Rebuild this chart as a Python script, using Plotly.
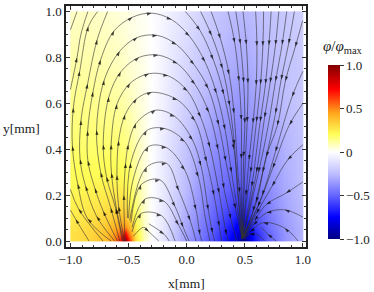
import plotly.graph_objects as go

GRID_X = [-1, -.85, -.7, -.62, -.56, -.53, -.5, -.44, -.36, -.3, -.2, -.05, .1, .25, .38, .44, .48, .52, .58, .7, .85, 1]
GRID_Y = [0, .03, .06, .1, .15, .25, .4, .6, .8, 1.0]
PHI = [
    [.28, .31, .38, .5, .72, .98, .7, .3, .08, 0, -.1, -.3, -.44, -.58, -.76, -.88, -1, -.9, -.7, -.5, -.36, -.27],
    [.28, .31, .37, .47, .6, .75, .56, .28, .08, 0, -.1, -.3, -.42, -.56, -.73, -.85, -.97, -.87, -.68, -.5, -.36, -.27],
    [.27, .3, .35, .42, .48, .5, .42, .25, .07, 0, -.1, -.28, -.41, -.54, -.7, -.8, -.85, -.78, -.62, -.47, -.35, -.27],
    [.25, .28, .32, .35, .38, .38, .33, .21, .06, 0, -.09, -.27, -.39, -.52, -.64, -.71, -.74, -.69, -.56, -.45, -.34, -.26],
    [.24, .26, .28, .3, .3, .29, .26, .17, .06, 0, -.09, -.25, -.37, -.49, -.58, -.62, -.64, -.6, -.52, -.42, -.32, -.25],
    [.21, .22, .23, .23, .23, .22, .2, .13, .05, 0, -.08, -.22, -.34, -.44, -.5, -.52, -.52, -.51, -.45, -.38, -.3, -.24],
    [.18, .18, .18, .18, .17, .16, .15, .1, .04, 0, -.08, -.2, -.31, -.39, -.43, -.44, -.44, -.43, -.4, -.35, -.28, -.23],
    [.14, .14, .13, .12, .11, .1, .09, .06, .03, 0, -.06, -.16, -.25, -.31, -.35, -.36, -.36, -.35, -.33, -.3, -.25, -.21],
    [.1, .1, .09, .08, .07, .06, .05, .04, .02, 0, -.05, -.13, -.2, -.25, -.29, -.3, -.3, -.3, -.28, -.26, -.23, -.2],
    [.07, .07, .06, .05, .04, .04, .03, .02, .01, 0, -.04, -.1, -.16, -.22, -.25, -.26, -.26, -.26, -.25, -.23, -.21, -.18],
]

# Streamlines in flow order; a point with a third element 0 carries no arrow.
STREAMS = [
    [(-.84, 0), (-.955, .095), (-1, .135)],
    [(-.72, 0), (-.93, .14), (-1, .225)],
    [(-1, .92), (-.943, 1.0)],
    [(-1, .66), (-.943, .8), (-.91, .9, 0), (-.85, 1.0)],
    [(-.65, 0), (-.852, .097), (-.937, .248), (-.983, .414), (-.975, .581), (-.92, .74), (-.846, .935), (-.766, 1.0)],
    [(-.62, 0), (-.775, .108), (-.87, .24), (-.917, .356), (-.909, .526), (-.852, .685), (-.77, .877), (-.68, 1.0)],
    [(-.596, 0), (-.718, .13), (-.79, .23), (-.85, .35), (-.852, .48), (-.806, .65), (-.74, .79), (-.624, .916),
     (-.467, .975), (-.302, .993), (-.131, .965), (.023, .893), (.157, .781), (.256, .644), (.33, .486), (.385, .3),
     (.478, .01)],
    [(-.576, 0), (-.653, .144), (-.74, .299), (-.775, .483), (-.71, .70), (-.576, .827), (-.425, .887), (-.254, .896),
     (-.088, .856), (.063, .769), (.185, .665), (.276, .506), (.336, .349), (.419, .142), (.478, .01)],
    [(-.553, 0), (-.61, .14), (-.69, .28), (-.718, .42), (-.67, .627), (-.567, .737), (-.41, .8), (-.245, .81),
     (-.08, .773), (.071, .683), (.19, .561), (.27, .4), (.32, .23), (.379, .097), (.43, 0)],
    [(-.544, 0), (-.604, .14), (-.647, .296), (-.65, .42), (-.6, .596), (-.487, .687), (-.325, .729), (-.16, .72),
     (.006, .654), (.12, .54), (.2, .409), (.279, .209), (.342, .029), (.36, 0)],
    [(-.535, 0), (-.585, .15), (-.6, .287), (-.585, .437), (-.53, .55), (-.43, .62), (-.3, .648), (-.08, .615),
     (.071, .524), (.171, .346), (.235, .2), (.28, .065), (.3, 0)],
    [(-.53, 0), (-.54, .2), (-.525, .339), (-.502, .42), (-.436, .512), (-.268, .57), (-.103, .543), (.05, .44),
     (.123, .328), (.185, .137), (.222, .036), (.24, 0)],
    [(-.51, .1, 0), (-.482, .339), (-.345, .481), (-.188, .49), (-.017, .433), (.1, .28), (.16, .1, 0), (.2, 0)],
    [(-.5, .1, 0), (-.46, .27, 0), (-.331, .411), (-.174, .407), (-.017, .31), (.08, .137), (.114, .029), (.13, 0)],
    [(-.49, .09, 0), (-.345, .322), (-.174, .339), (-.068, .22), (.03, .09), (.08, 0)],
    [(-.48, .08, 0), (-.393, .245), (-.231, .267), (-.1, .15), (-.03, .06), (.02, 0)],
    [(-.47, .06, 0), (-.359, .183), (-.194, .173), (-.07, .07), (0, 0)],
    [(-.47, .04, 0), (-.393, .12), (-.217, .111), (-.1, 0)],
    [(-.325, .075, 0), (-.195, .03), (-.15, 0)],
    [(-.46, .02, 0), (-.37, .06, 0), (-.325, .04), (-.24, 0)],
    [(-.011, 1.0), (.114, .918), (.228, .791), (.319, .639), (.407, .4), (.46, .1, 0), (.478, .01)],
    [(.12, 1.0), (.214, .896), (.308, .752), (.37, .59), (.41, .42), (.44, .2, 0), (.478, .01)],
    [(.21, 1.0), (.29, .882), (.365, .726), (.407, .557), (.44, .3, 0), (.456, .212), (.478, .01)],
    [(.356, 1.0), (.413, .864), (.45, .697), (.47, .528), (.47, .358), (.47, .2, 0), (.478, .01)],
    [(.422, 1.0), (.462, .859), (.49, .691), (.5, .514), (.49, .368), (.485, .2, 0), (.478, .01)],
    [(.484, 1.0), (.513, .856), (.527, .687), (.52, .52), (.5, .3, 0), (.478, .01)],
    [(.593, 1.0), (.604, .85), (.598, .68), (.57, .514), (.536, .354), (.51, .2), (.478, .01)],
    [(.661, 1.0), (.655, .85), (.635, .683), (.6, .52), (.55, .3), (.5, .12, 0), (.48, .01)],
    [(.726, 1.0), (.707, .853), (.678, .685), (.632, .521), (.56, .238), (.48, .01)],
    [(.792, 1.0), (.764, .855), (.718, .691), (.67, .538), (.6, .3), (.52, .1, 0), (.48, .01)],
    [(.86, 1.0), (.82, .855), (.764, .697), (.7, .5, 0), (.618, .3), (.5, .05, 0)],
    [(.926, 1.0), (.877, .86), (.812, .703), (.764, .557), (.654, .3), (.57, .13), (.48, .01)],
    [(.997, .96), (.934, .846), (.849, .697), (.78, .504), (.684, .368), (.6, .17), (.48, .01)],
    [(1.0, .74), (.906, .629), (.764, .39), (.65, .2), (.48, .01)],
    [(1.0, .6), (.883, .506), (.74, .318), (.613, .15), (.48, .01)],
    [(1.0, .42), (.869, .354), (.735, .24), (.6, .12), (.48, .01)],
    [(1.0, .258), (.855, .209), (.684, .159), (.584, .09), (.49, .015)],
    [(1.0, .104), (.844, .136), (.687, .123), (.573, .07), (.5, .02)],
    [(.958, 0), (.844, .056), (.659, .08), (.545, .04), (.49, .01)],
    [(.77, 0), (.698, .03), (.64, .06)],
    [(.67, 0), (.6, .03, 0), (.541, .03), (.49, .005)],
]

X_TICKS = [-1, -.5, 0, .5, 1]
X_LABELS = ["−1.0", "−0.5", "0.0", "0.5", "1.0"]
Y_TICKS = [0, .2, .4, .6, .8, 1]
Y_LABELS = ["0.0", "0.2", "0.4", "0.6", "0.8", "1.0"]
CB_TICKS = [-1, -.5, 0, .5, 1]
CB_LABELS = ["−1.0", "−0.5", "0", "0.5", "1.0"]

SCALE = [
    [0, "rgb(0,0,130)"], [.125, "rgb(0,0,255)"], [.25, "rgb(100,100,255)"], [.375, "rgb(190,190,255)"],
    [.5, "rgb(255,255,255)"], [.6, "rgb(255,255,90)"], [.72, "rgb(255,170,30)"], [.86, "rgb(255,0,0)"],
    [1, "rgb(130,0,0)"],
]
FONT = "Liberation Serif"

# Hairline end cells stop the heatmap from overhanging the data range by half a cell.
grid_x = [GRID_X[0], GRID_X[0] + .001] + GRID_X[1:-1] + [GRID_X[-1] - .001, GRID_X[-1]]
grid_y = [GRID_Y[0], GRID_Y[0] + .001] + GRID_Y[1:-1] + [GRID_Y[-1] - .001, GRID_Y[-1]]
rows = [[r[0]] + r + [r[-1]] for r in PHI]
rows = [rows[0]] + rows + [rows[-1]]

fig = go.Figure()
fig.add_trace(go.Heatmap(
    x=grid_x, y=grid_y, z=rows, zmin=-1, zmax=1, zsmooth="best", colorscale=SCALE,
    colorbar=dict(
        thickness=12, lenmode="pixels", len=174, yanchor="bottom", y=0.033, x=1.09, xanchor="left", xpad=0, ypad=0,
        outlinewidth=0, tickvals=CB_TICKS, ticktext=CB_LABELS, ticks="outside", ticklen=4, tickcolor="#333",
        tickfont=dict(family=FONT, size=13, color="#222"),
    ),
))
for line in STREAMS:
    xs = [p[0] for p in line]
    ys = [p[1] for p in line]
    n = len(line)
    sizes = [0 if (i == 0 or i == n - 1 or len(p) == 3) else 5 for i, p in enumerate(line)]
    fig.add_trace(go.Scatter(
        x=xs, y=ys, mode="lines+markers", showlegend=False, hoverinfo="skip",
        line=dict(color="rgba(50,50,50,0.8)", width=0.75, shape="spline", smoothing=1),
        marker=dict(symbol="arrow", angleref="previous", size=sizes, color="#000", line=dict(width=0)),
    ))

axis = dict(showgrid=False, zeroline=False, showline=True, mirror="allticks", linecolor="#222", linewidth=1.5,
            ticks="inside", ticklen=4, tickcolor="#333", tickfont=dict(family=FONT, size=13, color="#222"))
fig.update_xaxes(range=[-1.038, 1.026], tickvals=X_TICKS, ticktext=X_LABELS,
                 minor=dict(ticks="inside", ticklen=2, dtick=.1, tick0=0, tickcolor="#333"), **axis)
fig.update_yaxes(range=[-.026, 1.024], tickvals=Y_TICKS, ticktext=Y_LABELS,
                 minor=dict(ticks="inside", ticklen=2, dtick=.05, tick0=0, tickcolor="#333"), **axis)
fig.update_layout(
    width=374, height=292, margin=dict(l=66, r=66, t=4, b=45), plot_bgcolor="white", paper_bgcolor="white",
    showlegend=False, font=dict(family=FONT, color="#222"),
    annotations=[
        dict(text="x[mm]", xref="paper", yref="paper", x=0.5, y=-0.11, yanchor="top", showarrow=False,
             font=dict(family=FONT, size=13.5, color="#222")),
        dict(text="y[mm]", xref="paper", yref="paper", x=-0.272, y=0.49, xanchor="left", showarrow=False,
             font=dict(family=FONT, size=13.5, color="#222")),
        dict(text="<i>φ</i>/<i>φ</i><sub>max</sub>", xref="paper", yref="paper", x=1.245, y=0.875, showarrow=False,
             font=dict(family=FONT, size=15, color="#222")),
    ],
)
fig.write_html("out.html", config={"displayModeBar": False},
               post_script="document.body.style.margin='0';document.body.style.overflow='hidden';")
